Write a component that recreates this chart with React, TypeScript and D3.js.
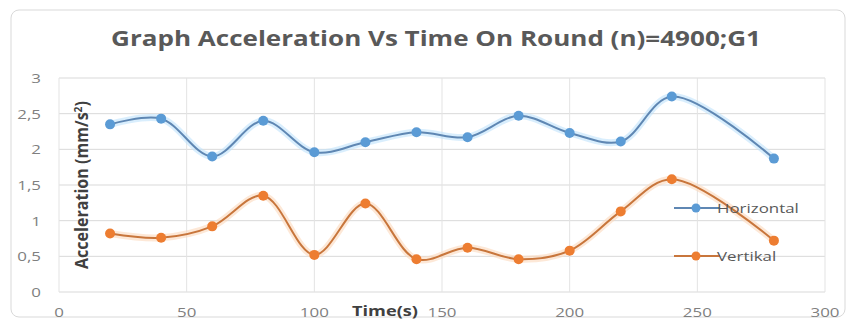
import React from "react";
import * as d3 from "d3";

const timeValues = [20, 40, 60, 80, 100, 120, 140, 160, 180, 200, 220, 240, 280];
const horizontalValues = [2.35, 2.43, 1.9, 2.4, 1.96, 2.1, 2.24, 2.17, 2.47, 2.23, 2.11, 2.74, 1.87];
const vertikalValues = [0.82, 0.76, 0.92, 1.35, 0.52, 1.24, 0.46, 0.62, 0.46, 0.58, 1.13, 1.58, 0.72];
const xTicks = [0, 50, 100, 150, 200, 250, 300];
const yTicks = [0, 0.5, 1, 1.5, 2, 2.5, 3];
const seriesNames = ["Horizontal", "Vertikal"];

const W = 848;
const H = 320;
const FONT = "'Open Sans', 'DejaVu Sans', sans-serif";

const x = d3.scaleLinear().domain([0, 300]).range([59, 825]);
const y = d3.scaleLinear().domain([0, 3]).range([292, 78]);

const fmt = (v: number) => String(v).replace(".", ",");

type Series = { name: string; values: number[]; color: string; line: string; halo: string };

const series: Series[] = [
  { name: seriesNames[0], values: horizontalValues, color: "#5B9BD5", line: "#5f87b3", halo: "#bfe3fb" },
  { name: seriesNames[1], values: vertikalValues, color: "#ED7D31", line: "#c8763c", halo: "#fbd9bd" },
];

const lineGen = d3
  .line<[number, number]>()
  .x((d) => x(d[0]))
  .y((d) => y(d[1]))
  .curve(d3.curveCatmullRom.alpha(0.5));

// Text drawn with a horizontal stretch (wide chart lettering)
function SText(props: {
  x: number;
  y: number;
  sx?: number;
  anchor?: "start" | "middle" | "end";
  size: number;
  weight?: string;
  fill: string;
  children: React.ReactNode;
}) {
  const { x: tx, y: ty, sx = 1.3, anchor = "start", size, weight = "normal", fill, children } = props;
  return (
    <text
      transform={`translate(${tx},${ty}) scale(${sx},1)`}
      textAnchor={anchor}
      fontSize={size}
      fontWeight={weight}
      fill={fill}
    >
      {children}
    </text>
  );
}

export default function App() {
  return (
    <svg
      width={W}
      height={H}
      style={{ position: "absolute", left: 0, top: 0, background: "#fff" }}
      fontFamily={FONT}
    >
      <rect x={11} y={10} width={834} height={307} rx={8} fill="#fff" stroke="#d9d9d9" strokeWidth={1} />

      <SText x={436} y={46} sx={1.24} anchor="middle" size={21} weight="bold" fill="#595959">
        Graph Acceleration Vs Time On Round (n)=4900;G1
      </SText>

      {/* gridlines */}
      {yTicks.map((t) => (
        <line key={"gy" + t} x1={x(0)} x2={x(300)} y1={y(t)} y2={y(t)} stroke="#d9d9d9" strokeWidth={1} />
      ))}
      {xTicks.map((t) => (
        <line key={"gx" + t} x1={x(t)} x2={x(t)} y1={y(0)} y2={y(3)} stroke="#e3e3e3" strokeWidth={1} />
      ))}

      {/* tick labels */}
      {yTicks.map((t) => (
        <SText key={"ty" + t} x={41} y={y(t) + 5} anchor="end" size={13} fill="#7f7f7f">
          {fmt(t)}
        </SText>
      ))}
      {xTicks.map((t) => (
        <SText key={"tx" + t} x={x(t)} y={317} anchor="middle" size={13} fill="#7f7f7f">
          {t}
        </SText>
      ))}

      {/* axis titles */}
      <text
        transform={`translate(88,${185}) rotate(-90) scale(1,1.25)`}
        textAnchor="middle"
        fontSize={14}
        fontWeight="bold"
        fill="#404040"
        textLength={168}
        lengthAdjust="spacingAndGlyphs"
      >
        Acceleration (mm/s
        <tspan dy={-5} fontSize={9}>2</tspan>
        <tspan dy={5}>)</tspan>
      </text>
      <SText x={385} y={316} anchor="middle" size={14} weight="bold" fill="#404040">
        Time(s)
      </SText>

      {/* series */}
      {series.map((s) => {
        const pts = timeValues.map((t, i) => [t, s.values[i]] as [number, number]);
        const d = lineGen(pts) || "";
        return (
          <g key={s.name}>
            <path d={d} fill="none" stroke={s.halo} strokeWidth={7} strokeOpacity={0.6} />
            <path d={d} fill="none" stroke={s.line} strokeWidth={2} />
            {pts.map((p, i) => (
              <circle key={i} cx={x(p[0])} cy={y(p[1])} r={5} fill={s.color} />
            ))}
          </g>
        );
      })}

      {/* legend */}
      {series.map((s, i) => {
        const ly = 208 + i * 48;
        return (
          <g key={"lg" + s.name}>
            <line x1={674} x2={720} y1={ly} y2={ly} stroke={s.line} strokeWidth={2} />
            <circle cx={696} cy={ly} r={4.5} fill={s.color} />
            <SText x={717} y={ly + 5} size={13} fill="#595959">
              {s.name}
            </SText>
          </g>
        );
      })}
    </svg>
  );
}
